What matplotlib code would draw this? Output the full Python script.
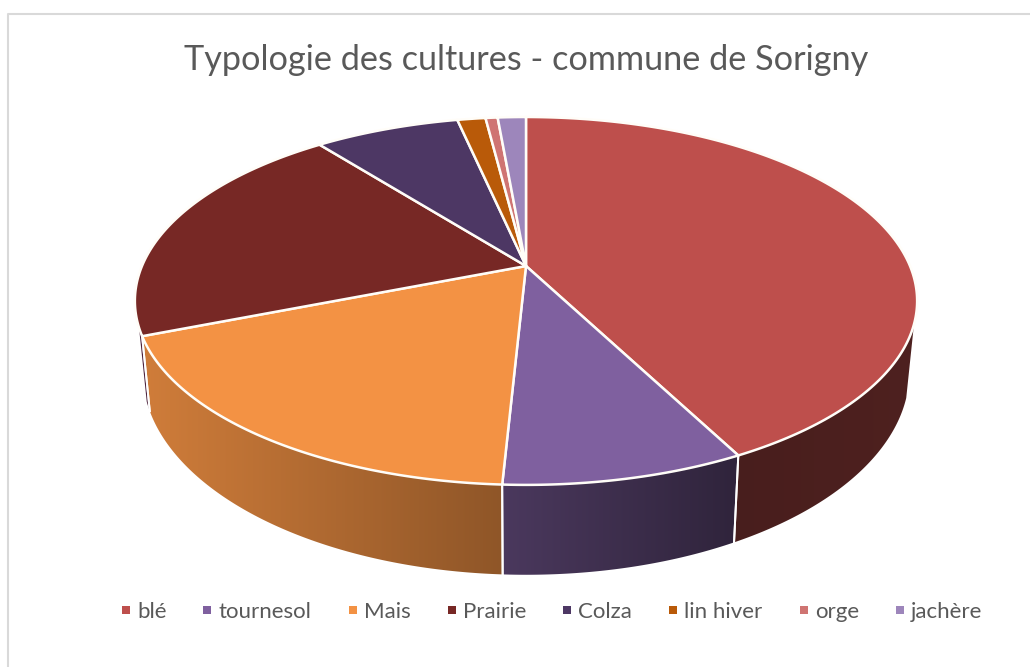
import matplotlib
matplotlib.use("Agg")
import matplotlib.pyplot as plt
from matplotlib.colors import to_rgb
from matplotlib.lines import Line2D
from matplotlib.patches import Polygon
import numpy as np

plt.rcParams['font.family'] = ['Lato', 'DejaVu Sans']

# Donnees (parts en %)
cultures = ["blé", "tournesol", "Mais", "Prairie", "Colza", "lin hiver", "orge", "jachère"]
parts = [42.4, 8.4, 18.2, 20.4, 7.2, 1.4, 0.6, 1.4]
couleurs = ["#BE4F4C", "#7F609F", "#F39244", "#772825", "#4D3764", "#B95A09", "#CF7472", "#9D86BB"]
titre = "Typologie des cultures - commune de Sorigny"

# Perspective (pixels)
cx, cy = 526, 266
A, B, k = 384, 177.3, 0.19
sx, sy, cy_bas = 0.98, 1.10, 334
theta_min, theta_max = 108, 251

# ombrage du flanc selon x
ombre_x = [150, 500, 730, 900]
ombre_v = [0.85, 0.59, 0.38, 0.41]


def haut(t):
    t = np.radians(t)
    w = 1 + k * np.cos(t)
    return cx + A * np.sin(t) / w, cy - B * np.cos(t) / w


def bas(t):
    x, y = haut(t)
    return cx + sx * (x - cx), cy_bas + sy * (y - cy)


fig = plt.figure(figsize=(10.3, 6.67), dpi=100)
ax = fig.add_axes([0, 0, 1, 1])

# cadre
ax.plot([7.5, 7.5, 1030], [667, 13.5, 13.5], color="#D9D9D9", lw=1.5)

bornes = np.concatenate([[0], np.cumsum(parts) / np.sum(parts) * 360])

# flancs : un degrade horizontal decoupe par le contour de chaque part
xs = np.arange(100, 950)
ombre = np.interp(xs, ombre_x, ombre_v)
for i, c in enumerate(couleurs):
    t0, t1 = max(bornes[i], theta_min), min(bornes[i + 1], theta_max)
    if t1 <= t0:
        continue
    ts = np.linspace(t0, t1, 150)
    xh, yh = haut(ts)
    xb, yb = bas(ts)
    base = np.array(to_rgb("#5A2A48" if cultures[i] == "Prairie" else c))
    img = (ombre[:, None] * base)[None, :, :]
    contour = Polygon(np.c_[np.r_[xh, xb[::-1]], np.r_[yh, yb[::-1]]], transform=ax.transData,
                      facecolor="none", edgecolor="none")
    ax.add_patch(contour)
    im = ax.imshow(img, extent=(100, 950, 600, 300), aspect="auto", zorder=2, interpolation="bilinear")
    im.set_clip_path(contour)
    for t in (bornes[i], bornes[i + 1]):
        if theta_min < t < theta_max:
            xh, yh = haut(t)
            xb, yb = bas(t)
            ax.plot([xh, xb], [yh, yb], color="white", lw=1.4, zorder=3)

# dessus
for i, c in enumerate(couleurs):
    ts = np.linspace(bornes[i], bornes[i + 1], 200)
    x, y = haut(ts)
    ax.fill(np.r_[cx, x], np.r_[cy, y], facecolor=c, edgecolor="#FFFDF8", lw=1.8,
            joinstyle="round", zorder=4)

ax.set_xlim(0, 1030)
ax.set_ylim(667, 0)
ax.axis("off")

ax.text(526, 60, titre, ha="center", va="center", fontsize=24.7, color="#595959")

poignees = [Line2D([], [], ls="", marker="s", ms=5.5, color=c, mew=0) for c in couleurs]
ax.legend(poignees, cultures, ncol=8, loc="center", bbox_to_anchor=(547.5, 612),
          bbox_transform=ax.transData, frameon=False, fontsize=16, labelcolor="#595959",
          handletextpad=-0.1, columnspacing=1.25, handlelength=1.2, borderpad=0)

fig.savefig("out.png", dpi=100)
